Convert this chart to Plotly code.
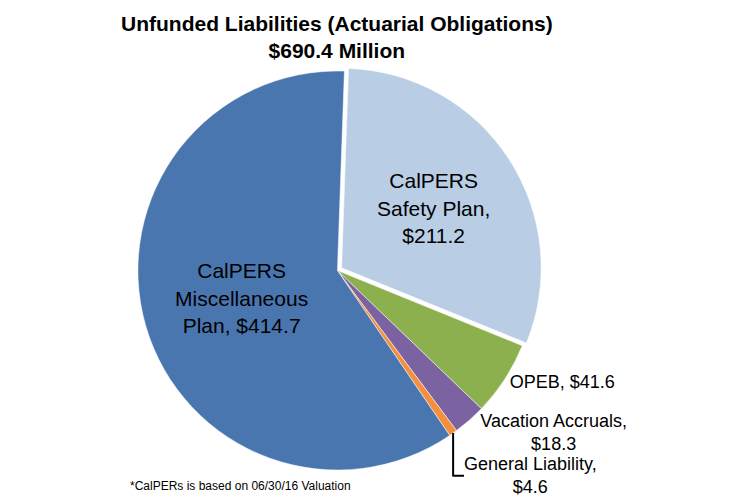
import plotly.graph_objects as go

categories = ["CalPERS Safety Plan", "OPEB", "Vacation Accruals", "General Liability", "CalPERS Miscellaneous Plan"]
values = [211.2, 41.6, 18.3, 4.6, 414.7]
slice_text = ["CalPERS<br>Safety Plan,<br>$211.2", "OPEB, $41.6", "Vacation Accruals,<br>$18.3",
              "General Liability,<br>$4.6", "CalPERS<br>Miscellaneous<br>Plan, $414.7"]
colors = ["#B9CDE5", "#8DB04E", "#7B62A0", "#F39040", "#4A76B0"]

title_text = "<b>Unfunded Liabilities (Actuarial Obligations)<br>$690.4 Million</b>"
footnote_text = "*CalPERs is based on 06/30/16 Valuation"

fig = go.Figure(go.Pie(
    labels=categories,
    values=values,
    text=slice_text,
    texttemplate="%{text}",
    textposition=["inside", "outside", "outside", "outside", "inside"],
    insidetextorientation="horizontal",
    sort=False,
    direction="clockwise",
    rotation=2,
    pull=[0.025, 0, 0, 0, 0],
    marker=dict(colors=colors, line=dict(color="white", width=0.5)),
    insidetextfont=dict(size=21, color="black", family="Liberation Sans, Arial"),
    outsidetextfont=dict(size=18, color="black", family="Liberation Sans, Arial"),
    showlegend=False,
    hoverinfo="label+value",
    domain=dict(x=[0.0, 0.86], y=[0.0, 1.0]),
))

fig.update_layout(
    width=749, height=504,
    margin=dict(l=0, r=0, t=58, b=28),
    paper_bgcolor="white",
    plot_bgcolor="white",
    annotations=[
        dict(
            text=title_text,
            xref="paper", yref="paper", x=0.429, y=1.0, yshift=56,
            xanchor="center", yanchor="top", showarrow=False,
            font=dict(size=21, color="black", family="Liberation Sans, Arial"),
        ),
        dict(
            text=footnote_text,
            xref="paper", yref="paper", x=0.268, y=0.0, yshift=-20,
            xanchor="center", yanchor="bottom", showarrow=False,
            font=dict(size=12, color="black", family="Liberation Sans, Arial"),
        ),
    ],
)

fig.write_html("out.html")
